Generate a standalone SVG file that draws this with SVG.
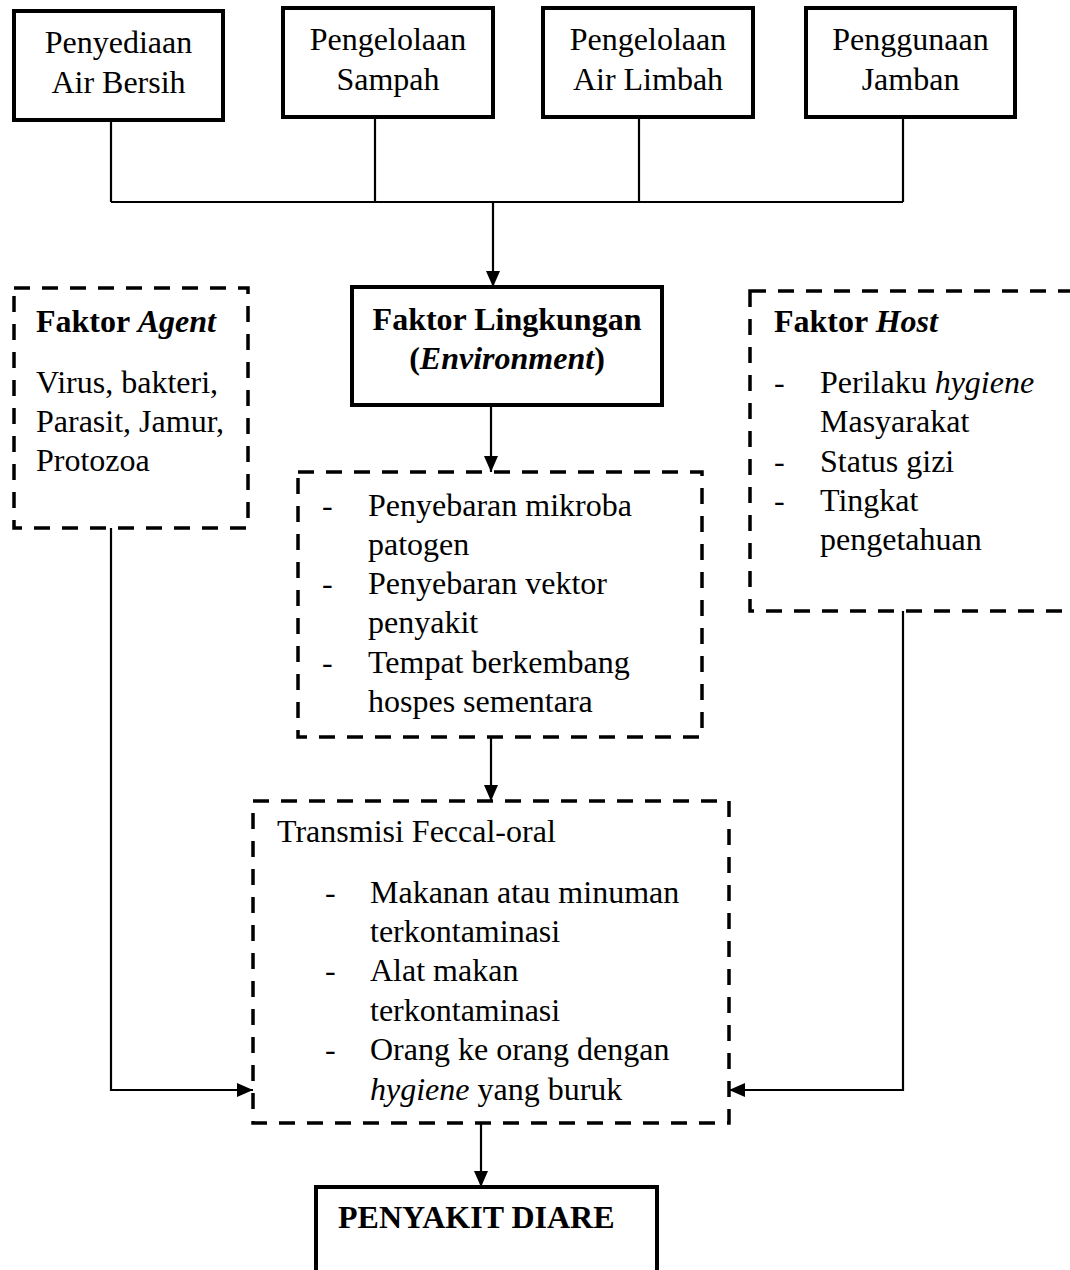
<svg xmlns="http://www.w3.org/2000/svg" width="1070" height="1270" viewBox="0 0 1070 1270">
<style>
text{font-family:"Liberation Serif","Times New Roman",serif;font-size:32px;fill:#000}
.b{font-weight:bold}
.i{font-style:italic}
.c{text-anchor:middle}
.solid{fill:#fff;stroke:#000;stroke-width:4}
.dash{fill:#fff;stroke:#000;stroke-width:3.5;stroke-dasharray:16 12}
.conn{fill:none;stroke:#000;stroke-width:2.2}
</style>
<defs>
<marker id="ah" markerUnits="userSpaceOnUse" markerWidth="16" markerHeight="14" refX="16" refY="7" orient="auto">
<path d="M0,0 L16,7 L0,14 z" fill="#000"/>
</marker>
</defs>
<rect width="1070" height="1270" fill="#fff"/>
<g id="connectors">
<path class="conn" d="M111,121 V202 M375,117 V202 M639,117 V202 M903,117 V202 M111,202 H903"/>
<path class="conn" d="M493,202 V287" marker-end="url(#ah)"/>
<path class="conn" d="M491,405 V472" marker-end="url(#ah)"/>
<path class="conn" d="M491,737 V801" marker-end="url(#ah)"/>
<path class="conn" d="M111,528 V1090 H253" marker-end="url(#ah)"/>
<path class="conn" d="M903,611 V1090 H729" marker-end="url(#ah)"/>
<path class="conn" d="M481,1123 V1187" marker-end="url(#ah)"/>
</g>
<g id="n-air-bersih">
<rect class="solid" x="14" y="11" width="209" height="109"/>
<text class="c" x="118.5" y="53">Penyediaan</text>
<text class="c" x="118.5" y="93">Air Bersih</text>
</g>
<g id="n-sampah">
<rect class="solid" x="283" y="8" width="210" height="109"/>
<text class="c" x="388" y="50">Pengelolaan</text>
<text class="c" x="388" y="90">Sampah</text>
</g>
<g id="n-air-limbah">
<rect class="solid" x="543" y="8" width="210" height="109"/>
<text class="c" x="648" y="50">Pengelolaan</text>
<text class="c" x="648" y="90">Air Limbah</text>
</g>
<g id="n-jamban">
<rect class="solid" x="806" y="8" width="209" height="109"/>
<text class="c" x="910.5" y="50">Penggunaan</text>
<text class="c" x="910.5" y="90">Jamban</text>
</g>
<g id="n-agent">
<rect class="dash" x="14" y="288" width="234" height="240"/>
<text class="b" x="36" y="332">Faktor <tspan class="i">Agent</tspan></text>
<text x="36" y="393">Virus, bakteri,</text>
<text x="36" y="432">Parasit, Jamur,</text>
<text x="36" y="471">Protozoa</text>
</g>
<g id="n-lingkungan">
<rect class="solid" x="352" y="287" width="310" height="118"/>
<text class="b c" x="507" y="330">Faktor Lingkungan</text>
<text class="b c" x="507" y="369">(<tspan class="i">Environment</tspan>)</text>
</g>
<g id="n-host">
<rect class="dash" x="750" y="291" width="360" height="320"/>
<text class="b" x="774" y="332">Faktor <tspan class="i">Host</tspan></text>
<text x="774" y="393">-</text>
<text x="820" y="393">Perilaku <tspan class="i">hygiene</tspan></text>
<text x="820" y="432">Masyarakat</text>
<text x="774" y="472">-</text>
<text x="820" y="472">Status gizi</text>
<text x="774" y="511">-</text>
<text x="820" y="511">Tingkat</text>
<text x="820" y="550">pengetahuan</text>
</g>
<g id="n-penyebaran">
<rect class="dash" x="298" y="472" width="404" height="265"/>
<text x="322" y="516">-</text>
<text x="368" y="516">Penyebaran mikroba</text>
<text x="368" y="555">patogen</text>
<text x="322" y="594">-</text>
<text x="368" y="594">Penyebaran vektor</text>
<text x="368" y="633">penyakit</text>
<text x="322" y="673">-</text>
<text x="368" y="673">Tempat berkembang</text>
<text x="368" y="712">hospes sementara</text>
</g>
<g id="n-transmisi">
<rect class="dash" x="253" y="801" width="476" height="322"/>
<text x="277" y="842">Transmisi Feccal-oral</text>
<text x="325" y="903">-</text>
<text x="370" y="903">Makanan atau minuman</text>
<text x="370" y="942">terkontaminasi</text>
<text x="325" y="981">-</text>
<text x="370" y="981">Alat makan</text>
<text x="370" y="1021">terkontaminasi</text>
<text x="325" y="1060">-</text>
<text x="370" y="1060">Orang ke orang dengan</text>
<text x="370" y="1100"><tspan class="i">hygiene</tspan> yang buruk</text>
</g>
<g id="n-diare">
<rect class="solid" x="316" y="1187" width="341" height="120"/>
<text class="b" x="338" y="1228">PENYAKIT DIARE</text>
</g>
</svg>
